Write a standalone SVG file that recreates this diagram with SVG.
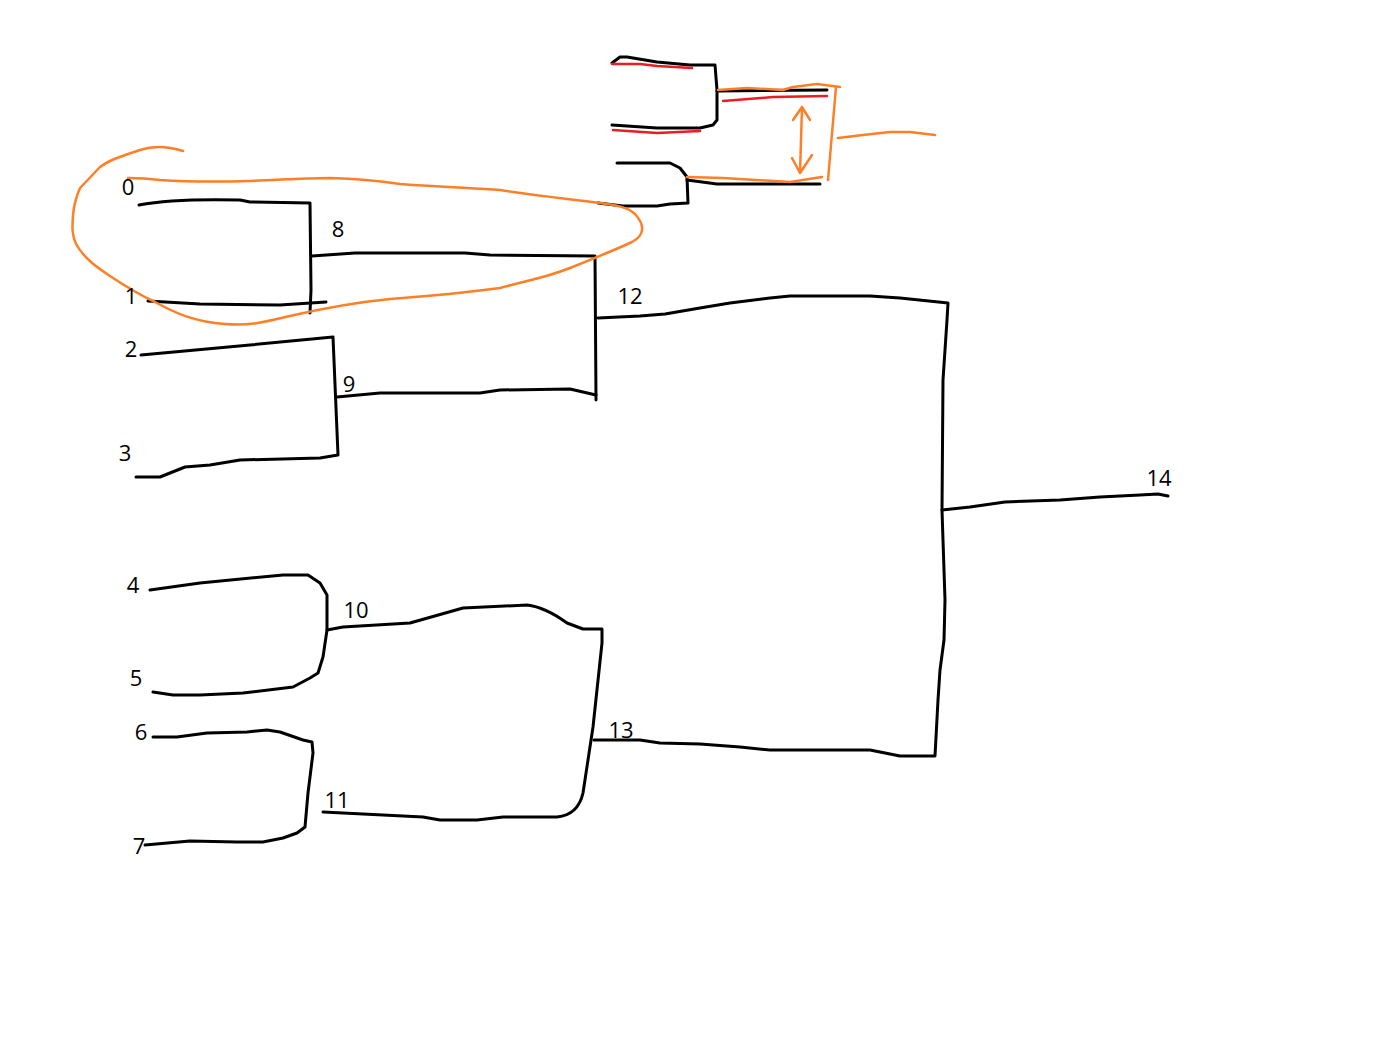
<svg xmlns="http://www.w3.org/2000/svg" width="1400" height="1050" viewBox="0 0 1400 1050">
<style>
.lbl{font-family:"Open Sans","Liberation Sans",sans-serif;font-size:22px;fill:#000;text-anchor:middle}
.k{fill:none;stroke:#000;stroke-width:3;stroke-linejoin:round;stroke-linecap:round}
.o{fill:none;stroke:#FF7F27;stroke-width:2.5;stroke-linejoin:round;stroke-linecap:round}
.r{fill:none;stroke:#ED1C24;stroke-width:2.5;stroke-linejoin:round;stroke-linecap:round}
</style>
<rect width="1400" height="1050" fill="#fff"/>
<g id="connectors">
<path class="k" d="M139,205 C160,201 200,199 240,200 L250,202 L310,203 L311,290 L310,313"/>
<path class="k" d="M148,301 L200,304 L280,305 L326,302"/>
<path class="k" d="M312,256 L355,253 L465,253 L490,255 L595,256 L596,400"/>
<path class="k" d="M141,355 L250,345 L333,337 L338,455 L320,458 L240,460 L210,465 L185,467 L160,477 L136,477"/>
<path class="k" d="M337,397 L380,393 L480,393 L500,390 L570,389 L596,395"/>
<path class="k" d="M598,318 L640,316 L665,314 L700,308 L730,303 L770,298 L790,296 L870,296 L900,298 L948,303 L947,320 L943,380 L942,510 L945,600 L944,640 L940,670 L938,700 L935,756 L900,756 L870,750 L770,750 L740,747 L700,744 L660,743 L640,740 L594,740"/>
<path class="k" d="M942,510 L970,507 L1005,502 L1060,500 L1100,497 L1140,495 L1158,494 L1168,496"/>
<path class="k" d="M150,590 L200,583 L283,575 L308,575 L320,583 L327,595 L327,630 L323,657 L318,673 L310,678 L293,687 L243,693 L200,695 L173,695 L153,692"/>
<path class="k" d="M327,630 L343,627 L410,623 L463,608 L527,605 Q545,607 567,623 L583,629 L602,629 L602,643 L593,727 L583,793 Q578,815 557,817 L503,817 L477,820 L440,820 L423,817 L323,812"/>
<path class="k" d="M153,737 L177,737 L207,733 L247,732 L267,730 L280,732 L303,740 L312,742 L313,753 L308,793 L305,827 L297,833 L283,838 L263,842 L237,842 L190,841 L145,845"/>
</g>
<g id="inset">
<path class="k" d="M612,63 L620,57 L627,57 L657,62 L690,65 L715,65 L717,90 L717,120 L713,125 L700,128 L657,128 L612,125"/>
<path class="k" d="M717,91 L827,90"/>
<path class="k" d="M617,163 L670,163 L680,168 L687,177 L688,203 L670,204 L657,206 L623,206 L598,203"/>
<path class="k" d="M687,180 L717,184 L820,184"/>
<path class="r" d="M612,64 L640,64 L657,66 L692,68"/>
<path class="r" d="M613,130 L657,133 L700,131"/>
<path class="r" d="M723,101 L773,97 L827,96"/>
<path class="o" d="M718,90 L747,88 L783,90 L793,87 L817,84 L840,87"/>
<path class="o" d="M836,87 L828,180"/>
<path class="o" d="M687,177 L723,178 L790,182 L822,177"/>
<path class="o" d="M802,107 L800,173 M793,120 L802,107 L810,120 M792,158 L800,173 L812,155"/>
<path class="o" d="M838,138 L863,135 L890,132 L910,132 L935,135"/>
</g>
<g id="highlight">
<path class="o" d="M183,151 C170,147 155,145 140,150 C125,155 110,159 100,167 L80,188 C76,197 74,205 73,215 C72,228 72,235 76,244 C84,258 95,266 110,276 C125,286 140,295 155,302 C175,313 195,322 225,324 C250,326 265,322 290,316 C320,309 350,303 390,299 C430,296 470,292 500,288 C525,281 545,278 570,268 C595,258 615,250 632,242 C645,235 645,225 635,214 C628,207 615,205 600,203 C570,199 540,196 500,190 C470,188 440,187 400,184 C380,181 365,179 330,178 C300,178 280,180 250,181 C215,182 190,182 160,180 C145,178 135,178 128,178"/>
</g>
<g id="node-0"><text class="lbl" x="128" y="195">0</text></g>
<g id="node-1"><text class="lbl" x="131" y="304">1</text></g>
<g id="node-2"><text class="lbl" x="131" y="357">2</text></g>
<g id="node-3"><text class="lbl" x="125" y="461">3</text></g>
<g id="node-4"><text class="lbl" x="133" y="593">4</text></g>
<g id="node-5"><text class="lbl" x="136" y="686">5</text></g>
<g id="node-6"><text class="lbl" x="141" y="740">6</text></g>
<g id="node-7"><text class="lbl" x="139" y="854">7</text></g>
<g id="node-8"><text class="lbl" x="338" y="237">8</text></g>
<g id="node-9"><text class="lbl" x="349" y="392">9</text></g>
<g id="node-10"><text class="lbl" x="356" y="618">10</text></g>
<g id="node-11"><text class="lbl" x="337" y="808">11</text></g>
<g id="node-12"><text class="lbl" x="630" y="304">12</text></g>
<g id="node-13"><text class="lbl" x="621" y="738">13</text></g>
<g id="node-14"><text class="lbl" x="1159" y="486">14</text></g>
</svg>
